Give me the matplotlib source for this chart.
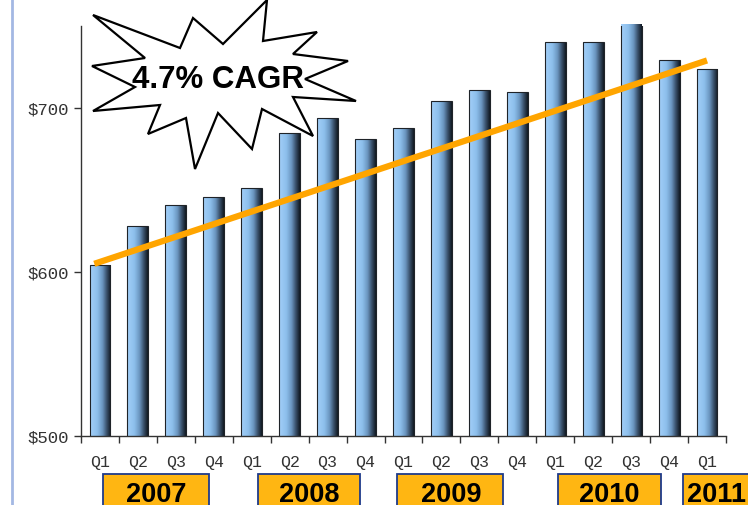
import numpy as np
import matplotlib
matplotlib.use("Agg")
import matplotlib.pyplot as plt
from matplotlib.colors import LinearSegmentedColormap
from matplotlib.patches import Polygon, Rectangle
from matplotlib.lines import Line2D

# data
quarters = ["Q1", "Q2", "Q3", "Q4"] * 4 + ["Q1"]
values = [604, 628, 641, 646, 651, 685, 694, 681, 688, 704, 711, 710,
          740, 740, 751, 729, 724]
years = ["2007", "2008", "2009", "2010", "2011"]
trend_x = [-0.15, 16]
trend_y = [605, 729]
y_ticks = [500, 600, 700]
y_labels = ["$500", "$600", "$700"]
cagr_label = "4.7% CAGR"

W, H = 748, 506
fig = plt.figure(figsize=(W / 100, H / 100), dpi=100)
ax = fig.add_axes([81 / W, (H - 437) / H, 645 / W, 410 / H])

x = np.arange(len(values))
bars = ax.bar(x, values, width=0.55, bottom=0, color="none",
              edgecolor="#1f2328", linewidth=0.8, zorder=3)

# horizontal gradient inside each bar
cmap = LinearSegmentedColormap.from_list(
    "barfade", [(0.0, "#a2cff8"), (0.35, "#8dbfec"), (0.6, "#6b96c0"),
                (0.8, "#3b536e"), (1.0, "#111922")])
grad = np.linspace(0, 1, 64).reshape(1, -1)
for b in bars:
    bx, bw, bh = b.get_x(), b.get_width(), b.get_height()
    im = ax.imshow(grad, cmap=cmap, aspect="auto", zorder=2,
                   extent=[bx, bx + bw, 500, bh], interpolation="bicubic")
    im.set_clip_path(b)

ax.plot(trend_x, trend_y, color="#ffa500", linewidth=4.5,
        solid_capstyle="butt", zorder=4)

ax.set_xlim(-0.5, len(values) - 0.5)
ax.set_ylim(500, 750)

for s in ["top", "right"]:
    ax.spines[s].set_visible(False)
for s in ["left", "bottom"]:
    ax.spines[s].set_color("#333333")
    ax.spines[s].set_linewidth(1.0)

ax.set_yticks(y_ticks)
ax.set_yticklabels(y_labels, family="Liberation Mono", fontsize=12.5,
                   color="#333333")
ax.tick_params(axis="y", length=5, width=1, color="#333333", pad=4)

ax.set_xticks(x)
ax.set_xticklabels(quarters, family="Liberation Mono", fontsize=12,
                   color="#333333")
ax.set_xticks(np.arange(-0.5, len(values)), minor=True)
ax.tick_params(axis="x", which="major", length=0, pad=13)
ax.tick_params(axis="x", which="minor", length=5, width=1, color="#333333")

# left border line
fig.add_artist(Line2D([12 / W, 12 / W], [0, 1], color="#a3b8e3",
                      linewidth=2, transform=fig.transFigure))

# year boxes (pixel layout)
box_px = [(103, 209, 156), (258, 360, 309), (397, 503, 451),
          (558, 661, 609), (683, 760, 717)]
for (l, r, c), yr in zip(box_px, years):
    fig.add_artist(Rectangle((l / W, -0.05), (r - l) / W, (H - 475) / H + 0.05,
                             facecolor="#ffb612", edgecolor="#1f3a8a",
                             linewidth=1.3, transform=fig.transFigure,
                             clip_on=False))
    fig.text(c / W, (H - 502) / H, yr, ha="center", va="baseline",
             family="Liberation Sans", fontweight="bold", fontsize=19.5,
             color="black")

# starburst callout
star_px = [(93, 16), (180, 49), (193, 19), (223, 45), (267, 1), (263, 42),
           (317, 33), (293, 55), (348, 62), (305, 80), (356, 102), (293, 98),
           (313, 137), (262, 110), (252, 150), (218, 114), (195, 170),
           (186, 119), (148, 135), (160, 106), (93, 112), (135, 88),
           (92, 67), (145, 59)]
star = Polygon([(px / W, 1 - py / H) for px, py in star_px], closed=True,
               facecolor="white", edgecolor="black", linewidth=1.6,
               transform=fig.transFigure, zorder=10)
fig.add_artist(star)
fig.text(218.5 / W, 1 - 80 / H, cagr_label, ha="center", va="center",
         family="Liberation Sans", fontweight="bold", fontsize=22.5,
         color="black", zorder=11)

fig.savefig("out.png", dpi=100)
